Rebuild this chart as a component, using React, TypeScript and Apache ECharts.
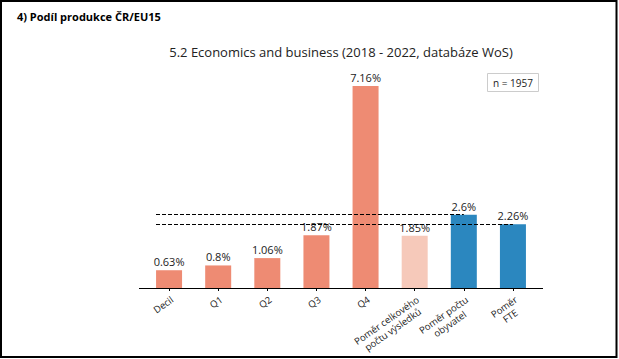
import React, { useEffect, useRef } from "react";
import * as echarts from "echarts";

const categories = [
  "Decil",
  "Q1",
  "Q2",
  "Q3",
  "Q4",
  "Poměr celkového\npočtu výsledků",
  "Poměr počtu\nobyvatel",
  "Poměr\nFTE",
];
const values = [0.63, 0.8, 1.06, 1.87, 7.16, 1.85, 2.6, 2.26];
const barColors = [
  "#EE8B73",
  "#EE8B73",
  "#EE8B73",
  "#EE8B73",
  "#EE8B73",
  "#F6C9BA",
  "#2B87BF",
  "#2B87BF",
];
const referenceIndices = [6, 7];
const headerText = "4) Podíl produkce ČR/EU15";
const titleText = "5.2 Economics and business (2018 - 2022, databáze WoS)";
const nText = "n = 1957";

const FONT = "'Open Sans', 'Noto Sans', sans-serif";

export default function App() {
  const ref = useRef<HTMLDivElement>(null);
  useEffect(() => {
    if (!ref.current) return;
    const chart = echarts.init(ref.current, undefined, { renderer: "svg" });
    const fmt = (v: string) =>
      v
        .split("\n")
        .map((l) => `{c|${l}}`)
        .join("\n");
    chart.setOption({
      animation: false,
      backgroundColor: "#fff",
      grid: { left: 144.5, width: 393, top: 60, height: 228 },
      xAxis: {
        type: "category",
        data: categories,
        axisLine: { show: false },
        axisTick: {
          show: true,
          alignWithLabel: true,
          length: 3,
          lineStyle: { color: "#000", width: 1 },
        },
        axisLabel: {
          rotate: 35,
          margin: 6,
          interval: 0,
          color: "#222",
          fontFamily: FONT,
          fontSize: 9.5,
          lineHeight: 11,
          verticalAlign: "top",
          formatter: fmt,
          rich: {
            c: {
              align: "center",
              fontFamily: FONT,
              fontSize: 9.5,
              lineHeight: 11,
              color: "#222",
            },
          },
        },
      },
      yAxis: {
        type: "value",
        min: 0,
        max: 8.085,
        show: false,
        splitLine: { show: false },
      },
      series: [
        {
          type: "line",
          data: [],
          z: 1,
          silent: true,
          markLine: {
            silent: true,
            symbol: "none",
            label: { show: false },
            lineStyle: { type: [4, 2], color: "#000", width: 1 },
            data: referenceIndices.map((i) => [
              { x: 156, yAxis: values[i] },
              { xAxis: i, yAxis: values[i] },
            ]),
          },
        },
        {
          type: "bar",
          z: 3,
          barWidth: 26,
          data: values.map((v, i) => ({
            value: v,
            itemStyle: { color: barColors[i] },
          })),
          label: {
            show: true,
            position: "top",
            distance: 3,
            fontFamily: FONT,
            fontSize: 11,
            color: "#222",
            formatter: (p: any) => `${p.value}%`,
          },
        },
      ],
      graphic: [
        {
          type: "rect",
          shape: { x: 1, y: 1, width: 615.5, height: 356 },
          style: { fill: "none", stroke: "#000", lineWidth: 2 },
          silent: true,
        },
        {
          type: "line",
          shape: { x1: 139, y1: 288.5, x2: 543, y2: 288.5 },
          style: { stroke: "#000", lineWidth: 1.2 },
          z: 10,
        },
        {
          type: "text",
          x: 17,
          y: 16,
          style: {
            text: headerText,
            fontFamily: FONT,
            fontWeight: "bold",
            fontSize: 11,
            fill: "#000",
            verticalAlign: "middle",
          },
        },
        {
          type: "text",
          x: 341,
          y: 52,
          style: {
            text: titleText,
            fontFamily: FONT,
            fontSize: 13,
            fill: "#222",
            align: "center",
            verticalAlign: "middle",
          },
        },
        {
          type: "rect",
          shape: { x: 487.5, y: 73.5, width: 51, height: 18 },
          style: { fill: "#fff", stroke: "#ccc", lineWidth: 1 },
        },
        {
          type: "text",
          x: 513,
          y: 82.5,
          style: {
            text: nText,
            fontFamily: FONT,
            fontSize: 10,
            fill: "#222",
            align: "center",
            verticalAlign: "middle",
          },
        },
      ],
    });
    return () => chart.dispose();
  }, []);
  return (
    <div
      ref={ref}
      style={{ position: "absolute", left: 0, top: 0, width: 619, height: 359 }}
    />
  );
}
